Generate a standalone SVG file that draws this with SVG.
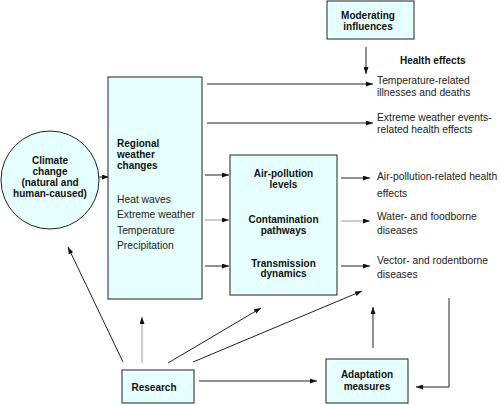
<svg xmlns="http://www.w3.org/2000/svg" width="500" height="405" viewBox="0 0 500 405">
<defs>
<style>
.box{fill:#e6ffff;stroke:#222;stroke-width:1}
.b{font-family:"Liberation Sans",Arial,sans-serif;font-weight:bold;font-size:10px;fill:#111}
.n{font-family:"Liberation Sans",Arial,sans-serif;font-size:10.3px;fill:#222}
.c{text-anchor:middle}
.ln{stroke:#222;stroke-width:1;fill:none;marker-end:url(#ah)}
.lg{stroke:#999}
</style>
<marker id="ah" markerUnits="userSpaceOnUse" markerWidth="7" markerHeight="5" refX="7" refY="2.5" orient="auto">
<path d="M0,0 L7,2.5 L0,5 z" fill="#111"/>
</marker>
</defs>
<rect width="500" height="405" fill="#fff"/>
<g id="connectors">
<line class="ln" x1="99" y1="177" x2="109" y2="177"/>
<line class="ln" x1="207" y1="84" x2="373" y2="84"/>
<line class="ln" x1="207" y1="123" x2="373" y2="123"/>
<line class="ln" x1="205" y1="175" x2="229" y2="175"/>
<line class="ln lg" x1="205" y1="220" x2="229" y2="220"/>
<line class="ln" x1="205" y1="266" x2="229" y2="266"/>
<line class="ln" x1="341" y1="178" x2="370" y2="178"/>
<line class="ln lg" x1="341" y1="221" x2="370" y2="221"/>
<line class="ln" x1="341" y1="266" x2="370" y2="266"/>
<line class="ln" x1="366" y1="47" x2="366" y2="74"/>
<line class="ln" x1="123" y1="362" x2="68" y2="247"/>
<line class="ln lg" x1="142" y1="363" x2="142" y2="317"/>
<line class="ln" x1="168" y1="363" x2="261" y2="308"/>
<line class="ln" x1="193" y1="362" x2="362" y2="291"/>
<line class="ln" x1="199" y1="381" x2="317" y2="381"/>
<line class="ln" x1="373" y1="348" x2="373" y2="307"/>
<polyline class="ln" points="449,298 449,387 416,387"/>
</g>
<g id="climate">
<circle class="box" cx="50" cy="180" r="49"/>
<text class="b c" x="50" y="163.5">Climate</text>
<text class="b c" x="50" y="174.5">change</text>
<text class="b c" x="50" y="185.5">(natural and</text>
<text class="b c" x="50" y="196.5">human-caused)</text>
</g>
<g id="regional">
<rect class="box" x="108" y="77" width="94" height="222"/>
<text class="b" x="117" y="146.5">Regional</text>
<text class="b" x="117" y="157.5">weather</text>
<text class="b" x="117" y="168.5">changes</text>
<text class="n" x="117" y="203">Heat waves</text>
<text class="n" x="117" y="218">Extreme weather</text>
<text class="n" x="117" y="233.5">Temperature</text>
<text class="n" x="117" y="248.5">Precipitation</text>
</g>
<g id="pathways">
<rect class="box" x="230" y="155" width="107" height="140"/>
<text class="b c" x="283.5" y="177">Air-pollution</text>
<text class="b c" x="283.5" y="187.5">levels</text>
<text class="b c" x="283.5" y="222.5">Contamination</text>
<text class="b c" x="283.5" y="233.5">pathways</text>
<text class="b c" x="283.5" y="266.5">Transmission</text>
<text class="b c" x="283.5" y="277">dynamics</text>
</g>
<g id="moderating">
<rect class="box" x="327" y="1" width="87" height="38"/>
<text class="b c" x="368" y="18.5">Moderating</text>
<text class="b c" x="368" y="30">influences</text>
</g>
<g id="health">
<text class="b" x="400" y="63.5">Health effects</text>
<text class="n" x="377" y="83.5">Temperature-related</text>
<text class="n" x="377" y="95.5">illnesses and deaths</text>
<text class="n" x="377" y="120.5">Extreme weather events-</text>
<text class="n" x="377" y="132.5">related health effects</text>
<text class="n" x="377" y="179.5">Air-pollution-related health</text>
<text class="n" x="377" y="197">effects</text>
<text class="n" x="377" y="219.5">Water- and foodborne</text>
<text class="n" x="377" y="234">diseases</text>
<text class="n" x="377" y="263.5">Vector- and rodentborne</text>
<text class="n" x="377" y="278">diseases</text>
</g>
<g id="research">
<rect class="box" x="122" y="370" width="72" height="33"/>
<text class="b c" x="154" y="390.5">Research</text>
</g>
<g id="adaptation">
<rect class="box" x="326" y="359" width="82" height="44"/>
<text class="b c" x="367" y="377.5">Adaptation</text>
<text class="b c" x="367" y="390">measures</text>
</g>
</svg>
